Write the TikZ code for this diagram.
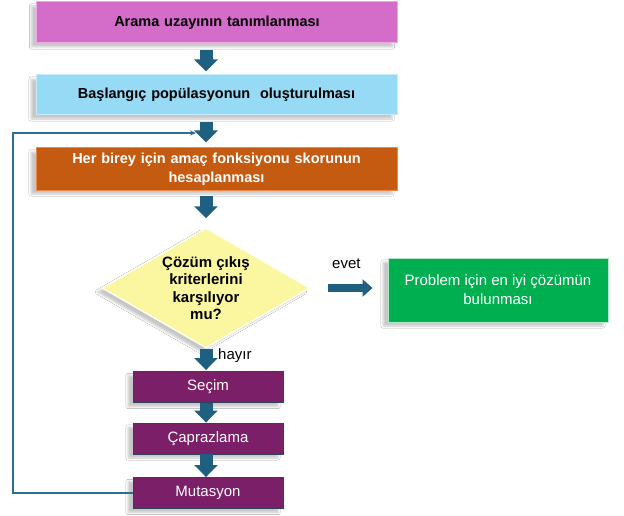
\documentclass[tikz,border=0pt]{standalone}
\usepackage{fontspec}
\setmainfont{Liberation Sans}
\usetikzlibrary{shapes.geometric,arrows.meta,shadows.blur,calc}
\definecolor{cpink}{HTML}{D46CC9}
\definecolor{cpinkb}{HTML}{E9A9E2}
\definecolor{cblue}{HTML}{97DAF5}
\definecolor{cblueb}{HTML}{C5EBFA}
\definecolor{corange}{HTML}{C55A11}
\definecolor{corangeb}{HTML}{E98A4C}
\definecolor{cyellow}{HTML}{FBF7A0}
\definecolor{cgreen}{HTML}{00AF50}
\definecolor{cpurple}{HTML}{7A1F68}
\definecolor{cpurpleb}{HTML}{33405A}
\definecolor{cteal}{HTML}{1F5F7F}
\definecolor{cline}{HTML}{2C6E91}
\tikzset{
  shd/.style={blur shadow={shadow xshift=-5pt,shadow yshift=-4pt,shadow opacity=22,shadow blur steps=6}},
  topbox/.style={shd,rectangle,minimum width=361pt,inner sep=2pt,align=center,text width=350pt,
    font=\fontsize{14.5}{19}\selectfont\bfseries,line width=1pt},
  purplebox/.style={shd,rectangle,fill=cpurple,draw=cpurpleb,line width=0.9pt,minimum width=150pt,
    minimum height=31pt,text=white,font=\fontsize{15}{17}\selectfont},
  varrow/.style={cteal,line width=13pt,-{Triangle[width=23pt,length=12pt]}},
  harrow/.style={cteal,line width=8pt,-{Triangle[width=17pt,length=10pt]}},
  fbline/.style={cline,line width=1.4pt,-{Stealth[length=6pt,width=5pt]}},
  lbl/.style={font=\fontsize{15}{17}\selectfont,inner sep=0pt}
}
\begin{document}
\begin{tikzpicture}[x=1pt,y=-1pt]
\useasboundingbox (0,0) rectangle (624,516);
\fill[white] (0,0) rectangle (624,516);
\node[topbox,fill=cpink,draw=cpinkb,minimum height=41pt] (b1) at (217,22.5) {Arama uzayının tanımlanması};
\node[topbox,fill=cblue,draw=cblueb,minimum height=40pt] (b2) at (216.5,95) {Başlangıç popülasyonun\ \ oluşturulması};
\node[topbox,fill=corange,draw=corangeb,minimum height=42pt,text=white] (b3) at (216.5,169) {Her birey için amaç fonksiyonu skorunun\\hesaplanması};
\node[shd,diamond,fill=cyellow,draw=white!85!cyellow,line width=1.5pt,minimum width=208pt,minimum height=120pt,
  inner sep=0pt,aspect=1.73,align=center,font=\fontsize{15}{17.5}\selectfont\bfseries] (d) at (206,288)
  {Çözüm çıkış\\kriterlerini\\karşılıyor\\mu?};
\node[shd,rectangle,fill=cgreen,draw=white!70!cgreen,line width=1pt,minimum width=220pt,minimum height=64pt,
  text=white,align=center,font=\fontsize{15}{19}\selectfont] (g) at (498,290)
  {Problem için en iyi çözümün\\bulunması};
\node[purplebox] (s1) at (208,387) {Seçim};
\node[purplebox] (s2) at (208,438.5) {Çaprazlama};
\node[purplebox] (s3) at (208,493) {Mutasyon};
% block arrows
\draw[varrow,shorten <=7pt,shorten >=3pt] (b1.south -| d.north) -- (b2.north -| d.north);
\draw[varrow,shorten <=7pt,shorten >=5pt] (b2.south -| d.north) -- (b3.north -| d.north);
\draw[varrow,shorten <=5pt,shorten >=9pt] (b3.south -| d.north) -- (d.north);
\draw[harrow,shorten <=17pt,shorten >=15pt] (d.east) -- (g.west |- d.east);
\draw[varrow,shorten <=0pt,shorten >=1pt] (d.south -| s1.north) ++(-2,0) coordinate (hs) -- (s1.north -| hs);
\draw[varrow] (s1.south -| hs) -- (s2.north -| hs);
\draw[varrow] (s2.south -| hs) -- (s3.north -| hs);
% labels
\node[lbl,anchor=west] (evet) at (332,264) {evet};
\node[lbl,anchor=west] (hayir) at (218,356) {hayır};
% feedback loop
\coordinate (fbl) at (13,133);
\coordinate (fbe) at (196,133);
\draw[fbline] (s3.west) -| (fbl) -- (fbe);
\end{tikzpicture}
\end{document}
